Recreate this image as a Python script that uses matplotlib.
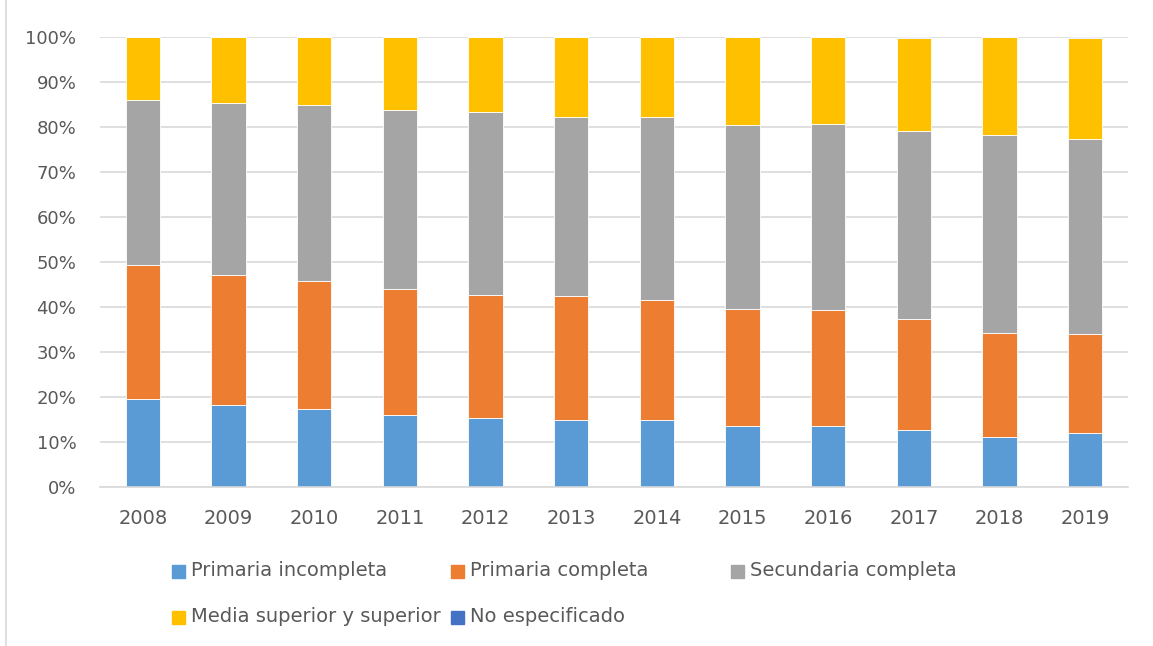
import numpy as np
import matplotlib
matplotlib.use('agg')
import matplotlib.pyplot as plt
from matplotlib.patches import Rectangle
from matplotlib.lines import Line2D

years = ['2008', '2009', '2010', '2011', '2012', '2013',
         '2014', '2015', '2016', '2017', '2018', '2019']

# shares in percent
prim_incompleta = [19.4, 18.2, 17.2, 15.9, 15.3, 14.8, 14.8, 13.6, 13.4, 12.7, 11.1, 11.9]
prim_completa = [29.9, 28.8, 28.6, 28.1, 27.2, 27.6, 26.7, 25.8, 25.8, 24.5, 23.1, 22.0]
secundaria = [36.7, 38.2, 39.0, 39.8, 40.8, 39.8, 40.6, 40.9, 41.3, 41.8, 44.0, 43.3]
media_sup = [14.0, 14.8, 15.2, 16.1, 16.7, 17.8, 17.9, 19.7, 19.4, 20.8, 21.8, 22.6]
no_espec = [0.0, 0.0, 0.0, 0.1, 0.0, 0.0, 0.0, 0.0, 0.1, 0.2, 0.0, 0.2]

series = [
    ('Primaria incompleta', prim_incompleta, '#5b9bd5'),
    ('Primaria completa', prim_completa, '#ed7d31'),
    ('Secundaria completa', secundaria, '#a5a5a5'),
    ('Media superior y superior', media_sup, '#ffc000'),
    ('No especificado', no_espec, '#4472c4'),
]

txt_col = '#595959'
grid_col = '#d9d9d9'
W, H = 1153, 646

fig = plt.figure(figsize=(W / 100, H / 100), dpi=100)
ax = fig.add_axes([100 / W, 1 - 486.7 / H, 1028 / W, 450 / H])

x = np.arange(len(years))
bottom = np.zeros(len(years))
for name, vals, col in series:
    vals = np.array(vals)
    ax.bar(x, vals, 0.4, bottom=bottom, color=col, edgecolor='white',
           linewidth=0.6, zorder=3, label=name)
    bottom += vals

ax.set_xlim(-0.5, len(years) - 0.5)
ax.set_ylim(0, 100)
ax.set_yticks(np.arange(0, 101, 10))
ax.set_yticklabels([f'{v}%' for v in range(0, 101, 10)])
ax.set_xticks(x)
ax.set_xticklabels(years)
ax.tick_params(length=0, colors=txt_col)
ax.tick_params(axis='y', pad=17, labelsize=13)
ax.tick_params(axis='x', pad=16, labelsize=14)
ax.yaxis.grid(True, color=grid_col, linewidth=1.2, zorder=0)
for s in ['top', 'right', 'left']:
    ax.spines[s].set_visible(False)
ax.spines['bottom'].set_color(grid_col)
ax.spines['bottom'].set_linewidth(1.2)
ax.spines['bottom'].set_zorder(4)

# legend laid out like the original (manual placement)
leg_pos = [(172, 571), (451, 571), (731, 571), (172, 617), (451, 617)]
sq = 13
for (name, vals, col), (px, py) in zip(series, leg_pos):
    fig.patches.append(Rectangle((px / W, 1 - (py + sq / 2) / H), sq / W, sq / H,
                                 transform=fig.transFigure, color=col, figure=fig))
    fig.text((px + sq + 6) / W, 1 - py / H, name, fontsize=14, color=txt_col,
             va='center', ha='left')

# light chart frame on the left
fig.lines.append(Line2D([5.5 / W, 5.5 / W], [0, 1], transform=fig.transFigure,
                        color=grid_col, linewidth=1.2))

fig.savefig('out.png', dpi=100)
